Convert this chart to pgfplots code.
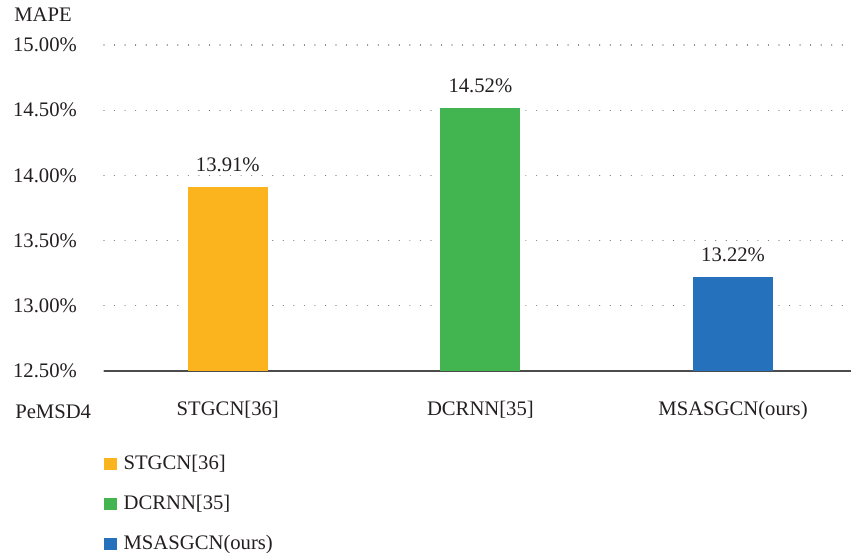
\documentclass[border=0pt]{standalone}
\usepackage{pgfplots}
\pgfplotsset{compat=1.18}
\usepackage{fontspec}
\setmainfont{Liberation Serif}
\definecolor{cOrange}{RGB}{251,180,30}
\definecolor{cGreen}{RGB}{67,181,80}
\definecolor{cBlue}{RGB}{37,113,187}
\definecolor{cText}{RGB}{35,31,32}
\begin{document}
\fontsize{15.5}{18}\selectfont
\begin{tikzpicture}[x=0.75pt,y=0.75pt]
\path[use as bounding box] (-104,-182) rectangle (747,371);
\begin{axis}[
  at={(0,0)}, anchor=south west,
  scale only axis,
  width=560.25pt, height=244.5pt,
  ymin=12.5, ymax=15,
  xmin=-0.49, xmax=2.467,
  ytick={12.5,13,13.5,14,14.5,15},
  xtick={0,1,2},
  xticklabels={STGCN[36],DCRNN[35],MSASGCN(ours)},
  /pgf/number format/assume math mode=true,
  yticklabel={\pgfmathprintnumber[fixed,fixed zerofill,precision=2]{\tick}\%},
  yticklabel style={xshift=-15pt, text=cText},
  xticklabel style={yshift=-17pt, text=cText},
  major tick length=0pt,
  axis x line*=bottom,
  axis y line*=left,
  y axis line style={draw=none},
  x axis line style={draw=black!70, line width=1.1pt, -},
  ymajorgrids,
  grid style={draw=black!55, line width=0.9pt, dash pattern=on 0.01pt off 7.9pt, line cap=round},
  ybar, bar width=60pt, bar shift=0pt,
  nodes near coords={\pgfmathprintnumber[fixed,fixed zerofill,precision=2]{\pgfplotspointmeta}\%},
  nodes near coords style={text=cText, anchor=south, yshift=6pt},
  legend style={draw=none, fill=none, at={(0pt,-61pt)}, anchor=north west,
    inner sep=0pt, row sep=13pt, font=\fontsize{15.5}{18}\selectfont, text=cText,
    legend cell align=left, nodes={inner xsep=5pt}},
  legend image code/.code={\fill[#1] (0pt,-4.7pt) rectangle (9.5pt,4.7pt);},
  clip=false,
]
\addplot[draw=none, fill=cOrange] coordinates {(0,13.91)};
\addlegendentry{STGCN[36]}
\addplot[draw=none, fill=cGreen] coordinates {(1,14.52)};
\addlegendentry{DCRNN[35]}
\addplot[draw=none, fill=cBlue] coordinates {(2,13.22)};
\addlegendentry{MSASGCN(ours)}
\end{axis}
\node[anchor=west, text=cText, inner sep=0pt] at (-90,356) {MAPE};
\node[anchor=west, text=cText, inner sep=0pt] at (-89,-41) {PeMSD4};
\end{tikzpicture}
\end{document}
